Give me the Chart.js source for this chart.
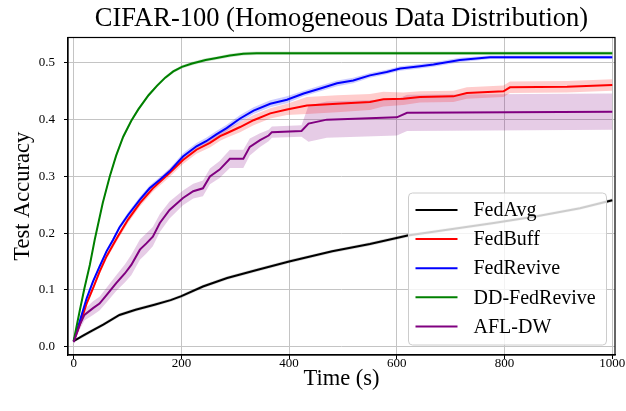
<!DOCTYPE html>
<html lang="en">
<head>
    <meta charset="UTF-8">
    <title>CIFAR-100 (Homogeneous Data Distribution)</title>
    <script src="https://cdn.jsdelivr.net/npm/chart.js"></script>
    <style>
        html, body {
            margin: 0;
            padding: 0;
            background: #fff;
        }
        #wrap {
            width: 626px;
            height: 411px;
        }
    </style>
</head>
<body>
    <div id="wrap"><canvas id="plot"></canvas></div>

    <script>
        // values
        const xTicks = [0, 200, 400, 600, 800, 1000];
        const yTicks = [0.0, 0.1, 0.2, 0.3, 0.4, 0.5];

        const fedAvgTime = [0, 15, 30, 55, 85, 115, 150, 180, 200, 240, 285, 340, 400, 480, 550, 620, 700, 780, 860, 940, 1000];
        const fedAvgAcc = [0.010, 0.018, 0.026, 0.039, 0.056, 0.065, 0.074, 0.082, 0.089, 0.106, 0.121, 0.135, 0.150, 0.168, 0.181, 0.196, 0.207, 0.218, 0.230, 0.244, 0.258];
        const fedAvgSpread = [0.002, 0.003, 0.003, 0.003, 0.003, 0.003, 0.003, 0.003, 0.003, 0.003, 0.003, 0.003, 0.003, 0.003, 0.003, 0.003, 0.003, 0.003, 0.003, 0.003, 0.003];

        const fedBuffTime = [0, 11, 24, 36, 48, 61, 73, 82, 101, 123, 147, 178, 203, 228, 253, 272, 284, 309, 334, 365, 396, 433, 489, 550, 575, 612, 643, 705, 730, 798, 810, 916, 1000];
        const fedBuffAcc = [0.010, 0.038, 0.076, 0.103, 0.132, 0.159, 0.179, 0.194, 0.224, 0.253, 0.279, 0.306, 0.329, 0.347, 0.359, 0.371, 0.376, 0.387, 0.399, 0.411, 0.418, 0.425, 0.428, 0.431, 0.436, 0.437, 0.440, 0.441, 0.447, 0.450, 0.457, 0.458, 0.461];
        const fedBuffSpread = [0.002, 0.004, 0.004, 0.005, 0.005, 0.005, 0.005, 0.005, 0.006, 0.006, 0.006, 0.007, 0.007, 0.007, 0.008, 0.008, 0.008, 0.009, 0.009, 0.009, 0.010, 0.015, 0.015, 0.014, 0.013, 0.011, 0.010, 0.010, 0.010, 0.010, 0.010, 0.010, 0.010];

        const fedReviveTime = [0, 11, 24, 36, 48, 61, 73, 85, 101, 123, 141, 160, 178, 203, 228, 246, 265, 284, 309, 334, 365, 396, 427, 458, 489, 519, 550, 581, 606, 643, 668, 717, 773, 1000];
        const fedReviveAcc = [0.010, 0.044, 0.085, 0.115, 0.141, 0.168, 0.188, 0.210, 0.232, 0.259, 0.279, 0.294, 0.309, 0.335, 0.353, 0.362, 0.374, 0.385, 0.402, 0.416, 0.428, 0.435, 0.446, 0.455, 0.464, 0.469, 0.478, 0.484, 0.490, 0.494, 0.497, 0.505, 0.510, 0.510];
        const fedReviveSpread = [0.002, 0.004, 0.004, 0.004, 0.004, 0.004, 0.004, 0.004, 0.005, 0.005, 0.005, 0.005, 0.005, 0.006, 0.006, 0.006, 0.006, 0.006, 0.006, 0.006, 0.006, 0.006, 0.005, 0.005, 0.005, 0.005, 0.004, 0.004, 0.004, 0.004, 0.004, 0.004, 0.003, 0.003];

        const ddFedReviveTime = [0, 11, 20, 30, 39, 54, 67, 79, 92, 107, 120, 139, 155, 170, 185, 201, 220, 245, 263, 290, 315, 340, 1000];
        const ddFedReviveAcc = [0.010, 0.062, 0.103, 0.144, 0.188, 0.253, 0.300, 0.337, 0.370, 0.398, 0.418, 0.443, 0.460, 0.474, 0.485, 0.493, 0.499, 0.505, 0.508, 0.513, 0.516, 0.517, 0.517];
        const ddFedReviveSpread = [0.002, 0.004, 0.004, 0.004, 0.004, 0.004, 0.004, 0.004, 0.004, 0.003, 0.003, 0.003, 0.003, 0.003, 0.003, 0.003, 0.003, 0.003, 0.003, 0.003, 0.003, 0.003, 0.003];

        const aflDwTime = [0, 11, 20, 36, 48, 61, 79, 95, 107, 123, 135, 147, 160, 178, 203, 222, 240, 253, 271, 290, 315, 327, 346, 362, 368, 423, 436, 470, 600, 619, 1000];
        const aflDwAcc = [0.008, 0.038, 0.056, 0.068, 0.076, 0.091, 0.112, 0.129, 0.144, 0.171, 0.182, 0.194, 0.218, 0.241, 0.262, 0.274, 0.279, 0.300, 0.312, 0.331, 0.331, 0.352, 0.364, 0.372, 0.378, 0.380, 0.393, 0.400, 0.404, 0.412, 0.414];
        const aflDwSpread = [0.003, 0.008, 0.010, 0.012, 0.012, 0.013, 0.014, 0.016, 0.018, 0.018, 0.018, 0.017, 0.016, 0.015, 0.013, 0.013, 0.014, 0.014, 0.015, 0.016, 0.016, 0.015, 0.012, 0.010, 0.010, 0.010, 0.032, 0.032, 0.032, 0.032, 0.032];

        const titleText = "CIFAR-100 (Homogeneous Data Distribution)";
        const SERIF = "'Liberation Serif', 'Times New Roman', serif";

        const series = [
            { label: "FedAvg", color: "#000000", shade: "rgba(0,0,0,0.18)", t: fedAvgTime, y: fedAvgAcc, s: fedAvgSpread },
            { label: "FedBuff", color: "#ff0000", shade: "rgba(255,0,0,0.2)", t: fedBuffTime, y: fedBuffAcc, s: fedBuffSpread },
            { label: "FedRevive", color: "#0000ff", shade: "rgba(0,0,255,0.2)", t: fedReviveTime, y: fedReviveAcc, s: fedReviveSpread },
            { label: "DD-FedRevive", color: "#008000", shade: "rgba(0,128,0,0.2)", t: ddFedReviveTime, y: ddFedReviveAcc, s: ddFedReviveSpread },
            { label: "AFL-DW", color: "#800080", shade: "rgba(128,0,128,0.2)", t: aflDwTime, y: aflDwAcc, s: aflDwSpread }
        ];

        // each series: lower band edge, upper band edge (filled to previous), mean line
        const datasets = [];
        series.forEach((sr, i) => {
            datasets.push({
                label: sr.label + " lo",
                data: sr.t.map((t, k) => ({ x: t, y: sr.y[k] - sr.s[k] })),
                borderWidth: 0,
                pointRadius: 0,
                fill: false,
                order: 20 + i
            });
            datasets.push({
                label: sr.label + " hi",
                data: sr.t.map((t, k) => ({ x: t, y: sr.y[k] + sr.s[k] })),
                borderWidth: 0,
                pointRadius: 0,
                backgroundColor: sr.shade,
                fill: "-1",
                order: 20 + i
            });
        });
        series.forEach((sr, i) => {
            datasets.push({
                label: sr.label,
                data: sr.t.map((t, k) => ({ x: t, y: sr.y[k] })),
                borderColor: sr.color,
                borderWidth: 2,
                pointRadius: 0,
                fill: false,
                tension: 0,
                order: 10 - i
            });
        });

        // title centred over the plot, plus top/right spines like matplotlib
        const frame = {
            id: "frame",
            afterDraw(chart) {
                const { ctx, chartArea: a } = chart;
                ctx.save();
                ctx.strokeStyle = "#000";
                ctx.lineWidth = 1.2;
                ctx.strokeRect(a.left, a.top, a.right - a.left, a.bottom - a.top);
                ctx.fillStyle = "#000";
                ctx.font = "26.5px " + SERIF;
                ctx.textAlign = "center";
                ctx.textBaseline = "middle";
                ctx.fillText(titleText, (a.left + a.right) / 2, 19);
                ctx.restore();
            }
        };

        // legend box in lower right of the plot
        const boxLegend = {
            id: "boxLegend",
            afterDatasetsDraw(chart) {
                const { ctx, chartArea: a } = chart;
                const w = 198, h = 152;
                const x0 = a.right - 8.5 - w;
                const y0 = a.bottom - 10 - h;
                ctx.save();
                ctx.beginPath();
                ctx.roundRect(x0, y0, w, h, 4);
                ctx.fillStyle = "rgba(255,255,255,0.8)";
                ctx.fill();
                ctx.strokeStyle = "#cccccc";
                ctx.lineWidth = 1;
                ctx.stroke();
                ctx.font = "20px " + SERIF;
                ctx.textBaseline = "middle";
                series.forEach((sr, i) => {
                    const cy = y0 + 17 + i * 29.1;
                    ctx.strokeStyle = sr.color;
                    ctx.lineWidth = 2;
                    ctx.beginPath();
                    ctx.moveTo(x0 + 7, cy);
                    ctx.lineTo(x0 + 49, cy);
                    ctx.stroke();
                    ctx.fillStyle = "#000";
                    ctx.fillText(sr.label, x0 + 65, cy + 1);
                });
                ctx.restore();
            }
        };

        new Chart(document.getElementById("plot"), {
            type: "line",
            data: { datasets: datasets },
            plugins: [frame, boxLegend],
            options: {
                responsive: true,
                maintainAspectRatio: false,
                animation: false,
                layout: { padding: { left: 0, right: 11, top: 37.5, bottom: 0 } },
                plugins: {
                    legend: { display: false },
                    tooltip: { enabled: false },
                    title: { display: false }
                },
                scales: {
                    x: {
                        type: "linear",
                        min: -10.5,
                        max: 1005,
                        afterBuildTicks: (scale) => { scale.ticks = xTicks.map(v => ({ value: v })); },
                        afterFit: (scale) => { scale.height = 56; },
                        ticks: {
                            color: "#000",
                            padding: -3,
                            maxRotation: 0,
                            font: { family: SERIF, size: 13 },
                            callback: (v) => String(v)
                        },
                        grid: { color: "#c4c4c4", lineWidth: 1, tickColor: "#000", tickLength: 4 },
                        border: { display: true, color: "#000", width: 1.2 },
                        title: {
                            display: true,
                            text: "Time (s)",
                            color: "#000",
                            font: { family: SERIF, size: 22.5, lineHeight: 1.2 },
                            padding: { top: 0, bottom: 18.5 }
                        }
                    },
                    y: {
                        min: -0.0146,
                        max: 0.5447,
                        afterBuildTicks: (scale) => { scale.ticks = yTicks.map(v => ({ value: v })); },
                        afterFit: (scale) => { scale.width = 68; },
                        ticks: {
                            color: "#000",
                            padding: 9,
                            font: { family: SERIF, size: 13 },
                            callback: (v) => Number(v).toFixed(1)
                        },
                        grid: { color: "#c4c4c4", lineWidth: 1, tickColor: "#000", tickLength: 4 },
                        border: { display: true, color: "#000", width: 1.2 },
                        title: {
                            display: true,
                            text: "Test Accuracy",
                            color: "#000",
                            font: { family: SERIF, size: 22.5, lineHeight: 1.2 },
                            padding: { top: 9.5, bottom: 0 }
                        }
                    }
                }
            }
        });
    </script>
</body>
</html>
